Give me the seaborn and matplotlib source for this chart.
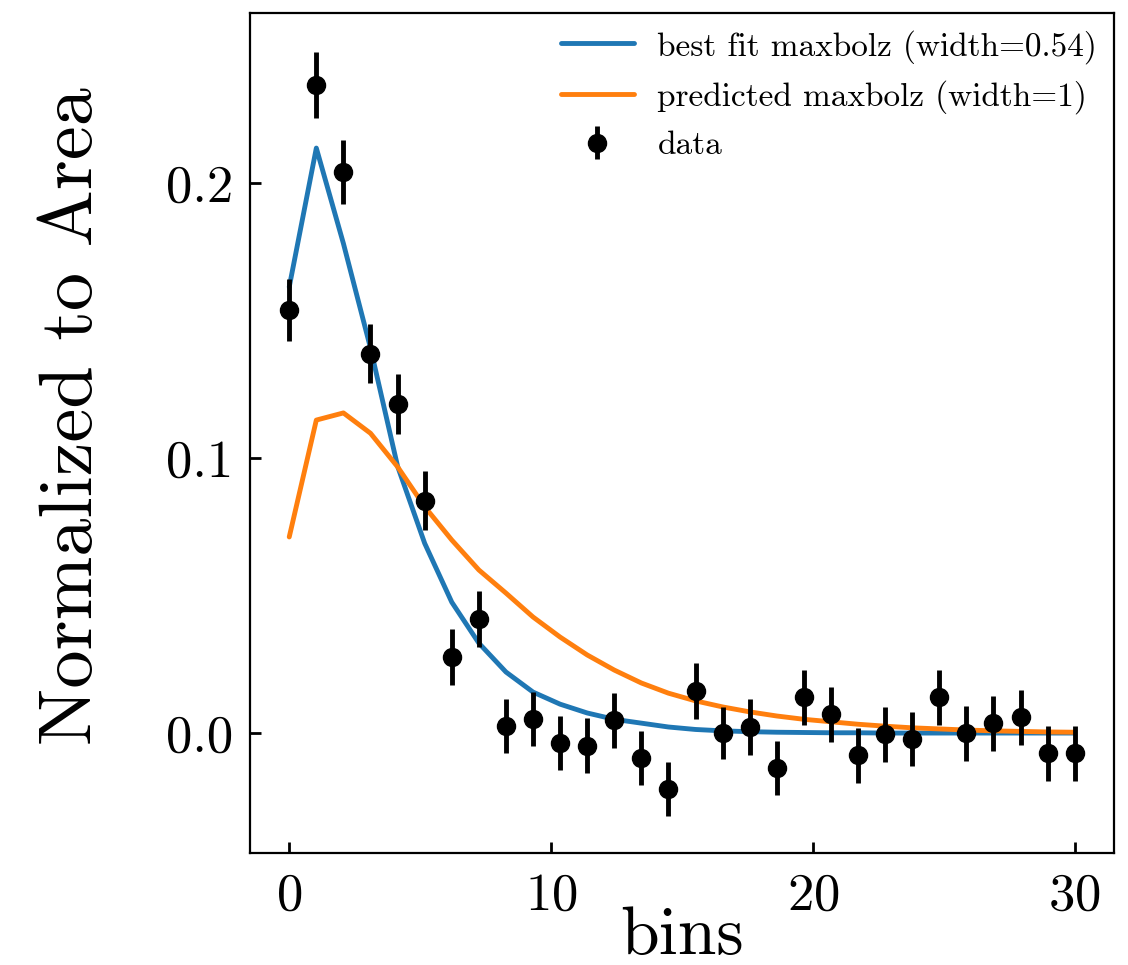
import numpy as np
import pandas as pd
import matplotlib
matplotlib.use('Agg')
import matplotlib.pyplot as plt
import seaborn as sns

# values
bins = np.linspace(0, 30, 30)
data = [0.1538, 0.2356, 0.2040, 0.1380, 0.1196, 0.0844, 0.0276, 0.0415, 0.0025, 0.0051,
        -0.0037, -0.0046, 0.0047, -0.0090, -0.0203, 0.0152, 0.0000, 0.0022, -0.0127, 0.0131,
        0.0069, -0.0081, -0.0004, -0.0022, 0.0131, 0.0000, 0.0036, 0.0058, -0.0074, -0.0074]
data_err = [0.0113, 0.0120, 0.0118, 0.0109, 0.0110, 0.0107, 0.0102, 0.0103, 0.0099, 0.0097,
            0.0099, 0.0099, 0.0100, 0.0099, 0.0098, 0.0101, 0.0096, 0.0100, 0.0099, 0.0100,
            0.0100, 0.0099, 0.0100, 0.0099, 0.0100, 0.0100, 0.0100, 0.0100, 0.0099, 0.0099]
best_fit = [0.1622, 0.2127, 0.1780, 0.1400, 0.0970, 0.0690, 0.0476, 0.0327, 0.0222, 0.0149,
            0.0105, 0.0073, 0.0050, 0.0036, 0.0022, 0.0013, 0.0008, 0.0005, 0.0003, 0.0002,
            0.0001, 0.0001, 0.0, 0.0, 0.0, 0.0, 0.0, 0.0, 0.0, 0.0]
predicted = [0.0713, 0.1138, 0.1164, 0.1090, 0.0968, 0.0823, 0.0702, 0.0593, 0.0509, 0.0422,
             0.0349, 0.0284, 0.0229, 0.0182, 0.0145, 0.0117, 0.0095, 0.0077, 0.0062, 0.0050,
             0.0041, 0.0032, 0.0025, 0.0019, 0.0015, 0.0011, 0.0008, 0.0006, 0.0004, 0.0003]

df = pd.DataFrame({'bins': bins, 'data': data, 'err': data_err,
                   'best': best_fit, 'pred': predicted})

sns.set_style('ticks')
plt.rcParams['font.family'] = ['cmr10', 'DejaVu Serif']
plt.rcParams['axes.formatter.use_mathtext'] = True
plt.rcParams['axes.unicode_minus'] = False
plt.rcParams['xtick.direction'] = 'in'
plt.rcParams['ytick.direction'] = 'in'
for k in ['text.color', 'axes.labelcolor', 'xtick.color', 'ytick.color', 'axes.edgecolor']:
    plt.rcParams[k] = 'black'

fig = plt.figure(figsize=(11.28, 9.65), dpi=100)
ax = fig.add_axes([0.2216, 0.1161, 0.766, 0.8704])

sns.lineplot(x='bins', y='best', data=df, ax=ax, color='#1f77b4', lw=3.5,
             label='best fit maxbolz (width=0.54)')
sns.lineplot(x='bins', y='pred', data=df, ax=ax, color='#ff7f0e', lw=3.5,
             label='predicted maxbolz (width=1)')
ax.errorbar(df['bins'], df['data'], yerr=df['err'], fmt='o', color='black',
            ms=13, elinewidth=3.5, label='data')

ax.set_xlim(-1.5, 31.5)
ax.set_ylim(-0.0436, 0.2618)
ax.set_xticks([0, 10, 20, 30])
ax.set_yticks([0.0, 0.1, 0.2])
ax.set_yticklabels(['0.0', '0.1', '0.2'])

ax.tick_params(labelsize=38, width=2, length=8)
ax.tick_params(axis='x', pad=14)
ax.tick_params(axis='y', pad=12)
for s in ax.spines.values():
    s.set_linewidth(1.6)

ax.set_xlabel('bins', fontsize=50, labelpad=-10)
ax.set_ylabel('Normalized to Area', fontsize=55)
ax.yaxis.set_label_coords(-0.166, 0.52)

ax.legend(loc='upper right', frameon=False, fontsize=24, borderaxespad=0.1,
          handlelength=2.2, handletextpad=0.7)

fig.savefig('out.png', dpi=100)
